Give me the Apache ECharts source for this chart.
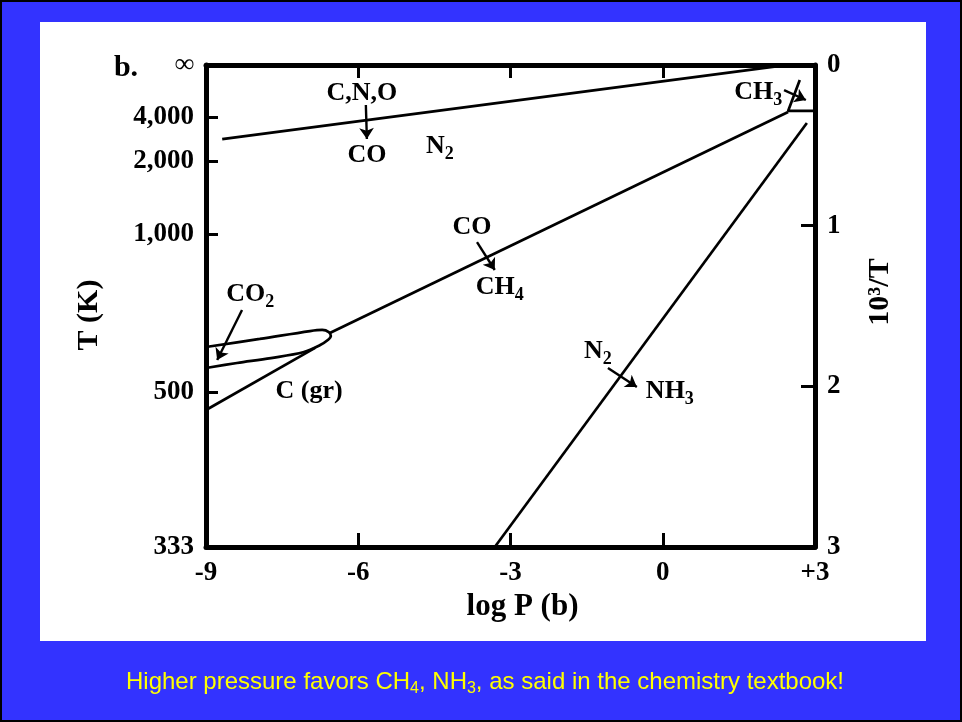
<!DOCTYPE html>
<html>
<head>
<meta charset="utf-8">
<script src="https://cdn.jsdelivr.net/npm/echarts@6/dist/echarts.min.js"></script>
<style>
  html, body { margin: 0; padding: 0; }
  body { width: 962px; height: 722px; overflow: hidden; position: relative; }
  #frame { position: absolute; left: 0; top: 0; width: 962px; height: 722px; box-sizing: border-box; background: #3333ff; border: 2px solid #000; }
  #panel { position: absolute; left: 40px; top: 22px; width: 886px; height: 619px; background: #fff; }
  #chart { position: absolute; left: 0; top: 0; width: 962px; height: 722px; }
</style>
</head>
<body>
<div id="frame"></div>
<div id="panel"></div>
<div id="chart"></div>
<script>
// Axis ticks: log P (bar) along x, 10^3/T along y (T in K on the left)
const logPTicks = [-9, -6, -3, 0, 3];
const logPLabels = ['-9', '-6', '-3', '0', '+3'];
const invTTicks = [0, 1, 2, 3];
const tempLabels = ['\u221E', '4,000', '2,000', '1,000', '500', '333'];
const tempLabelAt = [0, 0.324, 0.598, 1.052, 2.035, 3];

// Phase boundaries as [log P, 10^3/T] pairs
const cnoToCo = [[-8.68, 0.461], [2.2, 0.01]];
const coToCh4 = [[-6.56, 1.668], [2.47, 0.293]];
const n2ToNh3 = [[-3.31, 3.0], [2.84, 0.361]];
const ch3Field = [[2.70, 0.093], [2.47, 0.286], [3.0, 0.286]];
const graphiteLoop = [
  [-9, 1.755], [-7.94, 1.705], [-6.95, 1.656], [-6.71, 1.649], [-6.58, 1.662],
  [-6.54, 1.687], [-6.60, 1.712], [-6.75, 1.743], [-7.07, 1.786], [-7.72, 1.824],
  [-8.39, 1.855], [-9, 1.886]
];
const graphiteLower = [[-9, 2.147], [-6.85, 1.761]];

// Reaction arrows: [from, to]
const reactionArrows = [
  [[-5.85, 0.249], [-5.83, 0.461]],
  [[-3.66, 1.102], [-3.31, 1.276]],
  [[-1.08, 1.886], [-0.51, 2.004]],
  [[-8.29, 1.525], [-8.78, 1.836]],
  [[2.39, 0.156], [2.82, 0.218]]
];

// Field labels and where they sit
const fieldLabels = ['C,N,O', 'CO', 'N{s|2}', 'CO', 'CH{s|4}', 'N{s|2}', 'NH{s|3}', 'CO{s|2}', 'C (gr)', 'CH{s|3}'];
const fieldLabelAt = [
  [-5.93, 0.174], [-5.83, 0.560], [-4.39, 0.504], [-3.76, 1.008], [-3.21, 1.382],
  [-1.28, 1.780], [0.14, 2.029], [-8.13, 1.425], [-6.97, 2.029], [1.88, 0.168]
];

const SERIF = 'Liberation Serif';
const ink = '#000';
const axisLine = { show: true, onZero: false, lineStyle: { color: ink, width: 5 } };
const tickStyle = { color: ink, width: 3 };
const labelFont = { color: ink, fontFamily: SERIF, fontWeight: 'bold', fontSize: 27 };

function boundary(data, smooth) {
  return {
    type: 'line', data: data, xAxisIndex: 0, yAxisIndex: 0,
    symbol: 'none', showSymbol: false, smooth: smooth || false,
    lineStyle: { color: ink, width: 2.7 }, silent: true, animation: false, z: 3
  };
}

const chart = echarts.init(document.getElementById('chart'), null, { renderer: 'canvas' });

chart.setOption({
  backgroundColor: 'transparent',
  animation: false,
  grid: { left: 206, top: 65, width: 609, height: 482 },
  xAxis: [
    {
      type: 'value', position: 'bottom', min: -9, max: 3, interval: 3,
      axisLine: axisLine,
      axisTick: { show: true, inside: true, length: 14, lineStyle: tickStyle, customValues: [-6, -3, 0] },
      axisLabel: Object.assign({ show: true, margin: 13, customValues: logPTicks,
        formatter: function (v) { return logPLabels[logPTicks.indexOf(v)]; } }, labelFont),
      splitLine: { show: false },
      name: 'log P (b)', nameLocation: 'middle', nameGap: 43,
      nameTextStyle: { color: ink, fontFamily: SERIF, fontWeight: 'bold', fontSize: 31, padding: [0, 0, 0, 24] }
    },
    {
      type: 'value', position: 'top', min: -9, max: 3, interval: 3,
      axisLine: axisLine,
      axisTick: { show: true, inside: true, length: 13, lineStyle: tickStyle, customValues: [-6, -3, 0] },
      axisLabel: { show: false }, splitLine: { show: false }
    },
    {
      type: 'value', position: 'bottom', min: -9, max: 3, interval: 3,
      axisLine: { show: false },
      axisTick: { show: true, inside: false, length: 14, lineStyle: { color: ink, width: 5 }, customValues: [-9, 3] },
      axisLabel: { show: false }, splitLine: { show: false }
    }
  ],
  yAxis: [
    {
      type: 'value', position: 'left', inverse: true, min: 0, max: 3, interval: 1,
      axisLine: axisLine,
      axisTick: { show: true, inside: true, length: 12, lineStyle: tickStyle, customValues: tempLabelAt.slice(1, 5) },
      axisLabel: Object.assign({ show: true, margin: 12, customValues: tempLabelAt,
        formatter: function (v) { return tempLabels[tempLabelAt.indexOf(v)]; } }, labelFont),
      splitLine: { show: false }
    },
    {
      type: 'value', position: 'right', inverse: true, min: 0, max: 3, interval: 1,
      axisLine: axisLine,
      axisTick: { show: true, inside: true, length: 14, lineStyle: tickStyle, customValues: [1, 2] },
      axisLabel: Object.assign({ show: true, margin: 12, customValues: invTTicks }, labelFont),
      splitLine: { show: false }
    },
    {
      type: 'value', position: 'left', inverse: true, min: 0, max: 3, interval: 1,
      axisLine: { show: false },
      axisTick: { show: true, inside: false, length: 14, lineStyle: { color: ink, width: 5 }, customValues: [0, 3] },
      axisLabel: { show: false }, splitLine: { show: false }
    },
    {
      type: 'value', position: 'right', inverse: true, min: 0, max: 3, interval: 1,
      axisLine: { show: false },
      axisTick: { show: true, inside: false, length: 12, lineStyle: { color: ink, width: 5 }, customValues: [0, 3] },
      axisLabel: { show: false }, splitLine: { show: false }
    }
  ],
  series: [
    boundary(cnoToCo),
    boundary(coToCh4),
    boundary(n2ToNh3),
    boundary(ch3Field),
    boundary(graphiteLoop, 0.35),
    boundary(graphiteLower),
    {
      type: 'lines', coordinateSystem: 'cartesian2d', xAxisIndex: 0, yAxisIndex: 0,
      symbol: ['none', 'arrow'], symbolSize: 11,
      lineStyle: { color: ink, width: 2.4, opacity: 1 },
      data: reactionArrows.map(function (c) { return { coords: c }; }),
      silent: true, animation: false, z: 4
    },
    {
      type: 'scatter', xAxisIndex: 0, yAxisIndex: 0, symbolSize: 1,
      itemStyle: { color: 'rgba(0,0,0,0)', opacity: 1 },
      data: fieldLabels.map(function (t, i) { return { value: fieldLabelAt[i], label: { formatter: t } }; }),
      label: {
        show: true, position: 'inside', color: ink, opacity: 1,
        fontFamily: SERIF, fontWeight: 'bold', fontSize: 26, lineHeight: 34,
        rich: { s: { fontFamily: SERIF, fontWeight: 'bold', fontSize: 18, color: ink, verticalAlign: 'bottom' } }
      },
      silent: true, animation: false, z: 5
    }
  ],
  graphic: [
    { type: 'text', x: 126, y: 68, style: { text: 'b.', fill: ink, font: 'bold 30px "Liberation Serif"', textAlign: 'center', textVerticalAlign: 'middle' } },
    { type: 'text', x: 89, y: 315, rotation: Math.PI / 2, style: { text: 'T (K)', fill: ink, font: 'bold 30px "Liberation Serif"', textAlign: 'center', textVerticalAlign: 'middle' } },
    { type: 'text', x: 880, y: 292, rotation: Math.PI / 2, style: { text: '10\u00B3/T', fill: ink, font: 'bold 30px "Liberation Serif"', textAlign: 'center', textVerticalAlign: 'middle' } },
    {
      type: 'text', x: 485, y: 682,
      style: {
        text: 'Higher pressure favors CH{s|4}, NH{s|3}, as said in the chemistry textbook!',
        fill: '#ffff00', fontFamily: 'Liberation Sans', fontSize: 24, lineHeight: 30,
        textAlign: 'center', textVerticalAlign: 'middle',
        rich: { s: { fill: '#ffff00', fontFamily: 'Liberation Sans', fontSize: 16, verticalAlign: 'bottom' } }
      }
    }
  ]
});
</script>
</body>
</html>
